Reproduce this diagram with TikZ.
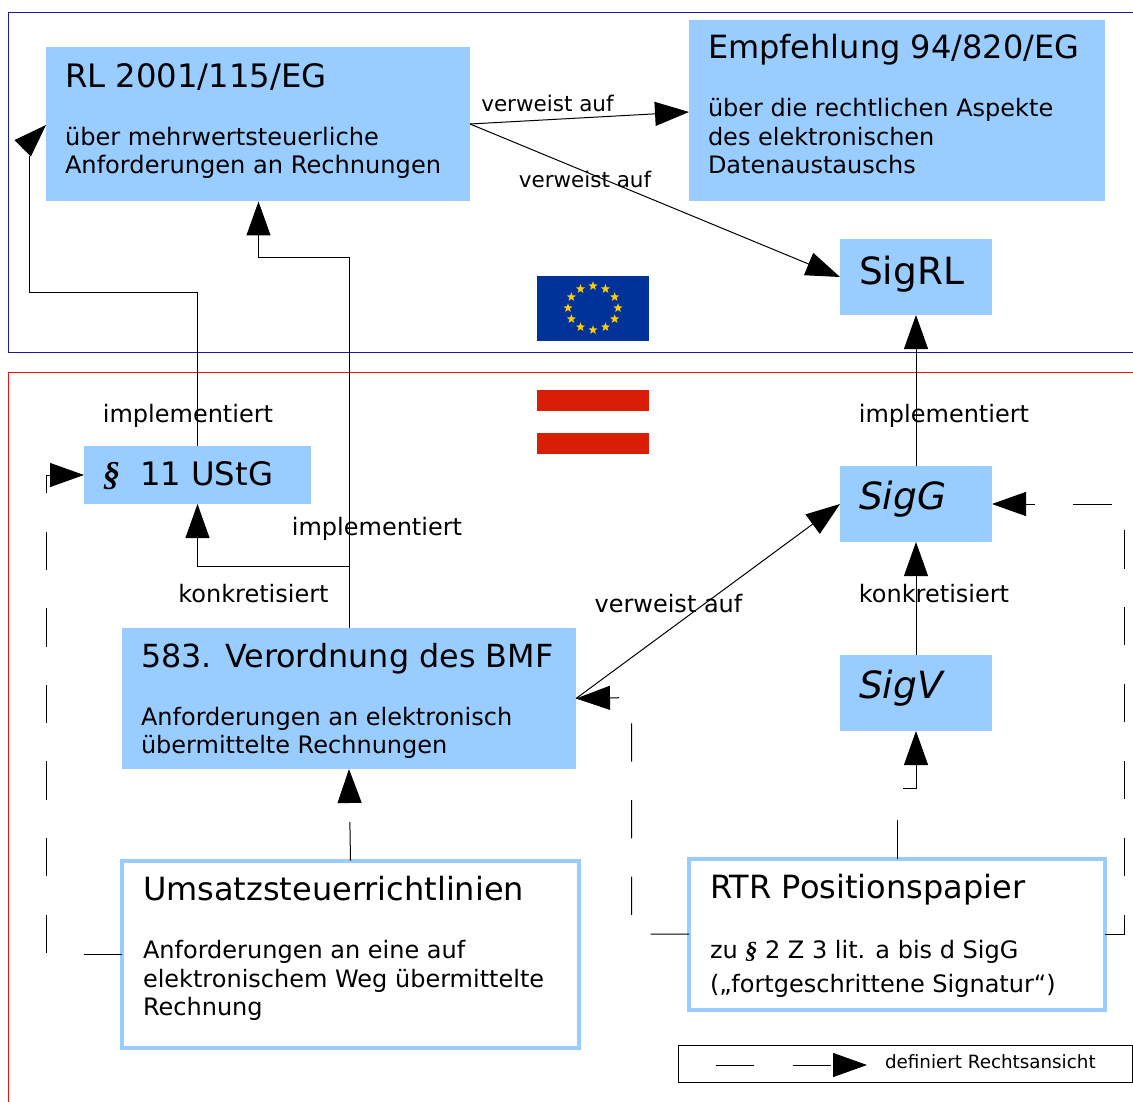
\documentclass[tikz,border=0pt]{standalone}
\usepackage{fontspec}
\setmainfont{DejaVu Sans}
\newfontfamily\parfont{Liberation Serif}
\usetikzlibrary{arrows.meta,shapes.geometric,calc}
\newcommand\boxbody[3]{\parbox[t][#2pt][t]{#1pt}{\leftskip=19pt\relax\rightskip=0pt plus 1fil\relax #3}}
\newcommand\wideboxbody[3]{\parbox[t][#2pt][t]{#1pt}{\leftskip=21pt\relax\rightskip=0pt plus 1fil\relax #3}}
\newcommand\headfont{\fontsize{32}{38}\selectfont}
\newcommand\subfont{\fontsize{24}{28.5}\selectfont}
\newcommand\para[1]{{\parfont\itshape\bfseries\fontsize{#1}{#1}\selectfont §}}
\definecolor{boxblue}{HTML}{99CCFF}
\definecolor{framenavy}{HTML}{1A1AA0}
\definecolor{framered}{HTML}{F01010}
\definecolor{euflag}{HTML}{003399}
\definecolor{eustar}{HTML}{FFCC00}
\definecolor{atflag}{HTML}{D81E05}
\tikzset{
  x=1pt,y=-1pt,
  every node/.style={inner sep=0pt,outer sep=0pt},
  filled/.style={fill=boxblue,draw=none,anchor=north west},
  outlined/.style={fill=white,draw=boxblue,line width=4pt,anchor=north west},
  link/.style={draw=black,line width=1pt},
  big/.style={-{Triangle[length=34pt,width=24pt]}},
  longdash/.style={dash pattern=on 38.3pt off 38.3pt},
  longdashb/.style={dash pattern=on 38.45pt off 38.45pt},
  lbl/.style={font=\fontsize{24}{28}\selectfont,text=black},
  lblsmall/.style={font=\fontsize{21.5}{26}\selectfont,text=black},
  legendtext/.style={font=\fontsize{18.3}{22}\selectfont,text=black},
}
\begin{document}
\begin{tikzpicture}
\useasboundingbox (0,0) rectangle (1133,1102);
\fill[white] (0,0) rectangle (1133,1102);
% frames
\draw[framenavy,line width=1pt] (1133,13) -- (8.5,13) -- (8.5,352.5) -- (1133,352.5);
\draw[framered,line width=1pt] (1133,372) -- (8.5,372) -- (8.5,1102);
% flags
\node[fill=euflag,anchor=north west,minimum width=112pt,minimum height=65pt] (eu) at (537,276) {};
\foreach \a in {0,30,...,330}
  \node[star,star points=5,star point ratio=2.4,fill=eustar,minimum size=9.5pt] (s\a) at ($(593,308)+({25*cos(\a)},{22*sin(\a)})$) {};
\node[fill=atflag,anchor=north west,minimum width=112pt,minimum height=21pt] (at1) at (537,390) {};
\node[fill=atflag,anchor=north west,minimum width=112pt,minimum height=21pt] (at2) at (537,433) {};
% boxes
\node[filled] (rl) at (46,47) {\boxbody{424}{154}{\rule{0pt}{41pt}\fontsize{32.3}{38}\selectfont RL 2001/115/EG\par\vspace{29pt}\fontsize{24.1}{28.5}\selectfont über mehrwertsteuerliche\\Anforderungen an Rechnungen\par}};
\node[filled] (emp) at (689,20) {\boxbody{416}{181}{\rule{0pt}{39pt}\headfont Empfehlung 94/820/EG\par\vspace{29.5pt}\subfont über die rechtlichen Aspekte\\des elektronischen\\Datenaustauschs\par}};
\node[filled] (sigrl) at (840,239) {\boxbody{152}{76}{\rule{0pt}{45pt}\fontsize{37.5}{42}\selectfont SigRL\par}};
\node[filled] (ustg) at (84,446) {\boxbody{227}{58}{\rule{0pt}{39pt}\fontsize{32.3}{38}\selectfont\para{34}\hspace{20pt}11 UStG\par}};
\node[filled] (sigg) at (840,466) {\boxbody{152}{76}{\rule{0pt}{43.5pt}\fontsize{37.5}{42}\selectfont\itshape SigG\par}};
\node[filled] (vo) at (122,628) {\boxbody{454}{141}{\rule{0pt}{39pt}\fontsize{31.8}{38}\selectfont 583. Verordnung des BMF\par\vspace{29.5pt}\subfont Anforderungen an elektronisch\\übermittelte Rechnungen\par}};
\node[filled] (sigv) at (840,655) {\boxbody{152}{76}{\rule{0pt}{43.5pt}\fontsize{37.5}{42}\selectfont\itshape SigV\par}};
\node[outlined] (ur) at (122,860.5) {\wideboxbody{457}{187}{\rule{0pt}{40pt}\headfont Umsatzsteuerrichtlinien\par\vspace{29.5pt}\subfont Anforderungen an eine auf\\elektronischem Weg übermittelte\\Rechnung\par}};
\node[outlined] (rtr) at (689,858.5) {\wideboxbody{416}{151}{\rule{0pt}{40pt}\headfont RTR Positionspapier\par\vspace{31pt}\subfont zu \para{24} 2 Z 3 lit. a bis d SigG\\[5.5pt](„fortgeschrittene Signatur“)\par}};
\node[draw=black,line width=1pt,fill=white,anchor=north west,minimum width=454pt,minimum height=37pt] (leg) at (678,1045.5) {};
% solid connectors
\draw[link,big] (rl.east |- 0,124) coordinate (rlout) -- (emp.west |- 0,112);
\draw[link,big] (rlout) -- (sigrl.west);
\draw[link] (ustg.north) -- (197.5,292) -- (29.5,292) -- (29.5,156);
\coordinate (rlbase) at (22.5,148.5);
\coordinate (rltip) at (46,125);
\draw[link,-{Triangle[length=33pt,width=23pt]}] (rlbase) -- (rltip);
\draw[link,big] (vo.north) -- (349,258) -- (258.5,258) -- (258.5,201.5);
\draw[link,big] (vo.north) -- (349,566) -- (197.5,566) -- (ustg.south);
\draw[link,big] (sigg.north) -- (sigrl.south);
\draw[link,big] (sigv.north) -- (sigg.south);
\draw[link,big] (vo.east) -- (sigg.west);
% dashed connectors
\draw[link,big,longdash] (ur.north) -- (vo.south);
\draw[link,big,longdash] (ur.west |- 0,954) -- (46.5,954) -- (46.5,475) -- (ustg.west);
\draw[link,big,longdash] (rtr.west |- 0,934) -- (631.5,934) -- (631.5,697.5) -- (vo.east);
\draw[link,big,longdash] (rtr.north -| 897,0) -- (897,788) -- (916,788) -- (sigv.south);
\draw[link,big,longdashb] (rtr.east |- 0,934) -- (1124,934) -- (1124,504) -- (sigg.east);
% legend
\coordinate (lega) at (716,1065);
\coordinate (legb) at (867,1065);
\draw[link,big,longdash] (lega) -- (legb);
\node[legendtext,anchor=base west] (legt) at (885,1068) {definiert Rechtsansicht};
% labels
\node[lblsmall] (l1) at (547.5,103.5) {verweist auf};
\node[lblsmall] (l2) at (585,179) {verweist auf};
\node[lbl] (l3) at (188,415.5) {implementiert};
\node[lbl] (l4) at (377,529) {implementiert};
\node[lbl] (l5) at (944,415.5) {implementiert};
\node[lbl] (l6) at (253.5,594) {konkretisiert};
\node[lbl] (l7) at (934,594) {konkretisiert};
\node[lbl] (l8) at (668.5,603.5) {verweist auf};
\end{tikzpicture}
\end{document}
